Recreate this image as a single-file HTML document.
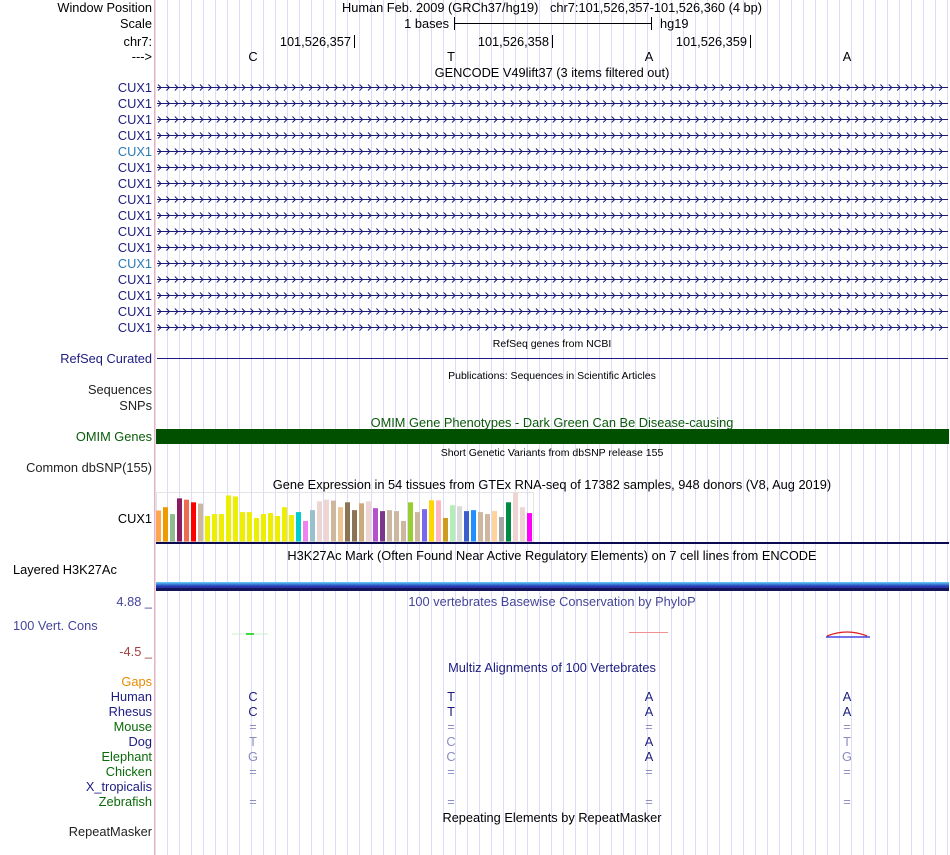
<!DOCTYPE html>
<html><head><meta charset="utf-8"><style>
html,body{margin:0;padding:0;background:#fff;width:950px;height:855px;overflow:hidden}
svg{display:block;font-family:"Liberation Sans",Arial,sans-serif;font-size:12.8px}
</style></head><body>
<svg id="ucsc" width="950" height="855" viewBox="0 0 950 855" xmlns="http://www.w3.org/2000/svg">
<g id="grid"></g>
<line x1="154.5" y1="0" x2="154.5" y2="855" stroke="#f4b0b0"/>

<g text-anchor="end" fill="#000">
<text x="152" y="12">Window Position</text>
<text x="152" y="28">Scale</text>
<text x="152" y="46">chr7:</text>
<text x="152" y="61">---&gt;</text>
</g>
<text x="342" y="12">Human Feb. 2009 (GRCh37/hg19)</text>
<text x="550" y="12">chr7:101,526,357-101,526,360 (4 bp)</text>
<text x="449" y="28" text-anchor="end">1 bases</text>
<g stroke="#000">
<line x1="454" y1="23.5" x2="651" y2="23.5"/><line x1="454.5" y1="17" x2="454.5" y2="30"/><line x1="651.5" y1="17" x2="651.5" y2="30"/>
</g>
<text x="660" y="28">hg19</text>
<g stroke="#000">
<line x1="354.5" y1="35" x2="354.5" y2="48"/><line x1="552.5" y1="35" x2="552.5" y2="48"/><line x1="750.5" y1="35" x2="750.5" y2="48"/>
</g>
<g text-anchor="end">
<text x="351" y="46">101,526,357</text>
<text x="549" y="46">101,526,358</text>
<text x="747" y="46">101,526,359</text>
</g>
<g text-anchor="middle">
<text x="253" y="61">C</text>
<text x="451" y="61">T</text>
<text x="649" y="61">A</text>
<text x="847" y="61">A</text>
<text x="552" y="77">GENCODE V49lift37 (3 items filtered out)</text>
</g>
<g id="gencode"></g>

<text x="152" y="363" text-anchor="end" fill="#1c1c80">RefSeq Curated</text>
<line x1="157" y1="358.5" x2="948" y2="358.5" stroke="#1c1c80"/>
<text x="552" y="347" text-anchor="middle" font-size="10.5">RefSeq genes from NCBI</text>
<text x="552" y="379" text-anchor="middle" font-size="10.5">Publications: Sequences in Scientific Articles</text>
<text x="152" y="394" text-anchor="end" fill="#222">Sequences</text>
<text x="152" y="410" text-anchor="end" fill="#222">SNPs</text>
<text x="552" y="427" text-anchor="middle" fill="#0a5a0a">OMIM Gene Phenotypes - Dark Green Can Be Disease-causing</text>
<text x="152" y="441" text-anchor="end" fill="#0a5a0a">OMIM Genes</text>
<rect x="156" y="429" width="793" height="15" fill="#005000"/>
<text x="552" y="456" text-anchor="middle" font-size="10.5">Short Genetic Variants from dbSNP release 155</text>
<text x="152" y="472" text-anchor="end" fill="#222">Common dbSNP(155)</text>

<text x="552" y="489" text-anchor="middle">Gene Expression in 54 tissues from GTEx RNA-seq of 17382 samples, 948 donors (V8, Aug 2019)</text>
<text x="152" y="523" text-anchor="end">CUX1</text>
<rect x="156.5" y="492.5" width="377" height="49" fill="none" stroke="#e4e4e4"/>
<g id="gtex"></g>
<rect x="156" y="542" width="793" height="2" fill="#0a0a50"/>

<text x="552" y="560" text-anchor="middle">H3K27Ac Mark (Often Found Near Active Regulatory Elements) on 7 cell lines from ENCODE</text>
<text x="13" y="574">Layered H3K27Ac</text>
<g>
<rect x="156" y="582" width="793" height="1.5" fill="#5cc0f0"/>
<rect x="156" y="583.5" width="793" height="2" fill="#3a78d8"/>
<rect x="156" y="585.5" width="793" height="2.5" fill="#2838a8"/>
<rect x="156" y="588" width="793" height="3" fill="#14145a"/>
</g>

<text x="152" y="606" text-anchor="end" fill="#45459a">4.88 _</text>
<text x="552" y="606" text-anchor="middle" fill="#45459a">100 vertebrates Basewise Conservation by PhyloP</text>
<text x="13" y="630" fill="#45459a">100 Vert. Cons</text>
<text x="152" y="656" text-anchor="end" fill="#a04040">-4.5 _</text>
<g>
<line x1="232" y1="634" x2="268" y2="634" stroke="#c8f0c8"/>
<line x1="246" y1="634" x2="254" y2="634" stroke="#00cc00" stroke-width="1.5"/>
<line x1="629" y1="632.5" x2="668" y2="632.5" stroke="#f09090"/>
<line x1="826" y1="637" x2="870" y2="637" stroke="#2020e0" stroke-width="1.2"/>
<path d="M827,636 Q847,628 867,636" fill="none" stroke="#e02020" stroke-width="1.3"/>
</g>

<text x="552" y="672" text-anchor="middle" fill="#1c1c80">Multiz Alignments of 100 Vertebrates</text>
<g text-anchor="end">
<text x="152" y="686" fill="#e88a00">Gaps</text>
<text x="152" y="701" fill="#1c1c80">Human</text>
<text x="152" y="716" fill="#1c1c80">Rhesus</text>
<text x="152" y="731" fill="#0a6a0a">Mouse</text>
<text x="152" y="746" fill="#1c1c80">Dog</text>
<text x="152" y="761" fill="#0a6a0a">Elephant</text>
<text x="152" y="776" fill="#0a6a0a">Chicken</text>
<text x="152" y="791" fill="#1c1c80">X_tropicalis</text>
<text x="152" y="806" fill="#0a6a0a">Zebrafish</text>
<text x="152" y="836" fill="#222">RepeatMasker</text>
</g>
<g id="multiz" text-anchor="middle"></g>
<text x="552" y="822" text-anchor="middle">Repeating Elements by RepeatMasker</text>
</svg>
<script>
const NS="http://www.w3.org/2000/svg";
// GTEx data
const tissueValues=[95,105,84,132,128,120,116,78,84,84,141,138,90,90,72,84,87,78,105,81,90,63,96,123,128,125,105,120,96,117,123,102,93,96,93,63,120,90,99,126,126,72,111,108,93,96,90,84,93,75,120,150,105,87];
const tissueColors=["#FFA54F","#EE9A00","#8FBC8F","#8B1C62","#EE6A50","#FF0000","#CDB79E","#EEEE00","#EEEE00","#EEEE00","#EEEE00","#EEEE00","#EEEE00","#EEEE00","#EEEE00","#EEEE00","#EEEE00","#EEEE00","#EEEE00","#EEEE00","#00CDCD","#EE82EE","#9AC0CD","#EED5D2","#EED5D2","#CDB79E","#EEC591","#8B7355","#8B7355","#CDAA7D","#EED5D2","#B452CD","#7A378B","#CDB79E","#CDB79E","#CDB79E","#9ACD32","#CDB79E","#7A67EE","#FFD700","#FFB6C1","#CD9B1D","#B4EEB4","#D9D9D9","#3A5FCD","#1E90FF","#CDB79E","#CDB79E","#FFD39B","#A6A6A6","#008B45","#EED5D2","#EED5D2","#FF00FF"];
const valueMax=150;
function xBar(i){return 156+i*7;}
function yScale(v){return 541.5-v*49/valueMax;}

const grid=document.getElementById('grid');
for(let x=155.5;x<950;x+=12){
  const l=document.createElementNS(NS,'line');
  l.setAttribute('x1',x);l.setAttribute('x2',x);l.setAttribute('y1',0);l.setAttribute('y2',855);
  l.setAttribute('stroke','#dcdcf6');
  
  
  grid.appendChild(l);
}
const light=[4,11];
const gc=document.getElementById('gencode');
for(let r=0;r<16;r++){
  const y=87.5+r*16;
  const t=document.createElementNS(NS,'text');
  t.setAttribute('x',152);t.setAttribute('y',y+4.5);t.setAttribute('text-anchor','end');
  t.setAttribute('fill',light.includes(r)?'#2a7ab8':'#1c1c80');
  t.textContent='CUX1';
  
  
  gc.appendChild(t);
  const l=document.createElementNS(NS,'line');
  l.setAttribute('x1',157);l.setAttribute('x2',948);l.setAttribute('y1',y);l.setAttribute('y2',y);
  l.setAttribute('stroke','#1a1a78');
  
  
  gc.appendChild(l);
  let d='';
  for(let x=158;x<946;x+=8.4){d+='M'+x.toFixed(1)+','+(y-3)+' L'+(x+3).toFixed(1)+','+y+' L'+x.toFixed(1)+','+(y+3)+' ';}
  const p=document.createElementNS(NS,'path');
  p.setAttribute('d',d);p.setAttribute('fill','none');p.setAttribute('stroke','#1a1a78');
  
  
  gc.appendChild(p);
}
const g=document.getElementById('gtex');
tissueValues.forEach((v,i)=>{
  const r=document.createElementNS(NS,'rect');
  r.setAttribute('x',xBar(i));r.setAttribute('width',5);
  r.setAttribute('y',yScale(v));r.setAttribute('height',541.5-yScale(v));
  r.setAttribute('fill',tissueColors[i]);
  
  
  g.appendChild(r);
});
const species=["Human","Rhesus","Mouse","Dog","Elephant","Chicken","X_tropicalis","Zebrafish"];
const alignCols=[["C","C","=","t","g","=","","="],["T","T","=","c","c","=","","="],["A","A","=","A","A","=","","="],["A","A","=","t","g","=","","="]];
const mz=document.getElementById('multiz');
alignCols.forEach((col,c)=>{
  col.forEach((b,s)=>{
    if(!b)return;
    const t=document.createElementNS(NS,'text');
    t.setAttribute('x',253+c*198);t.setAttribute('y',701+s*15);
    const lower=b===b.toLowerCase()&&b!=="=";
    t.setAttribute('fill',(b==="="||lower)?'#8c8cc0':'#1c1c80');
    t.textContent=b.toUpperCase();
    
    
    mz.appendChild(t);
  });
});
</script>
</body></html>
